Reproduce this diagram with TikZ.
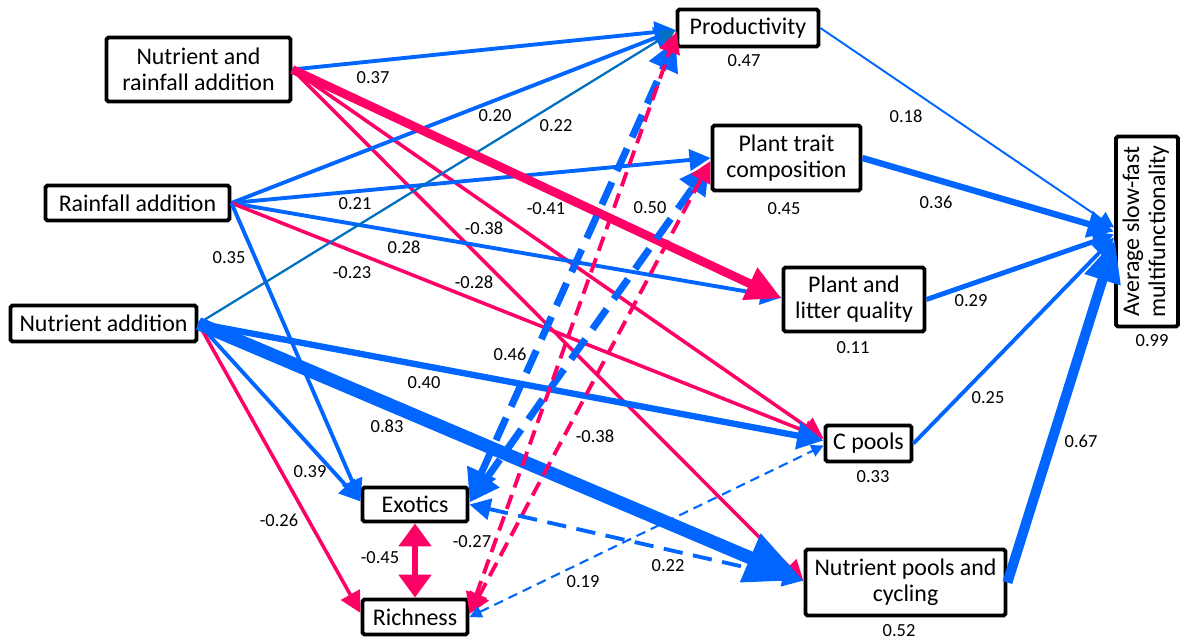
\documentclass[tikz,border=0pt]{standalone}
\usepackage{fontspec}
\setmainfont{Carlito}
\usetikzlibrary{arrows.meta,calc}
\definecolor{cb}{RGB}{0,102,255}
\definecolor{cp}{RGB}{255,0,102}
\definecolor{ct}{RGB}{0,112,192}
\tikzset{
 box/.style={draw=black, line width=2.2pt, rounded corners=1pt, fill=white, inner sep=0pt, align=center, font=\fontsize{13.6}{14.8}\selectfont},
 lbl/.style={font=\fontsize{10.5}{12}\selectfont, inner sep=0pt},
 pedge/.style={draw=cb, line width=2.2pt, -{Triangle[length=12pt,width=12pt]}},
 nedge/.style={draw=cp, line width=2pt, -{Triangle[length=12pt,width=12pt]}},
 posthin/.style={draw=cb, line width=1.1pt, -{Triangle[length=9pt,width=9pt]}},
 tealline/.style={draw=ct, line width=1.3pt, -{Triangle[length=9pt,width=9pt]}},
 posmed/.style={draw=cb, line width=3.6pt, -{Triangle[length=15pt,width=15pt]}},
 posbig/.style={draw=cb, line width=7.5pt, -{Triangle[length=33pt,width=28pt]}},
 posasf/.style={draw=cb, line width=5.7pt, -{Triangle[length=24pt,width=20pt]}},
 negbig/.style={draw=cp, line width=5pt, -{Triangle[length=20pt,width=19pt]}},
 dashbt/.style={draw=cb, line width=4pt, dash pattern=on 14pt off 7pt, {Triangle[length=17pt,width=17pt]}-{Triangle[length=17pt,width=17pt]}},
 dashp/.style={draw=cp, line width=2.2pt, dash pattern=on 8.5pt off 4.5pt, {Triangle[length=12pt,width=12pt]}-{Triangle[length=12pt,width=12pt]}},
 dashb/.style={draw=cb, line width=2.2pt, dash pattern=on 11pt off 6pt, {Triangle[length=12pt,width=12pt]}-{Triangle[length=12pt,width=12pt]}},
 dashbs/.style={draw=cb, line width=1.2pt, dash pattern=on 5.5pt off 3.5pt, {Triangle[length=7pt,width=7pt]}-{Triangle[length=7pt,width=7pt]}},
 corr/.style={draw=cp, line width=3.4pt, {Triangle[length=13pt,width=18pt]}-{Triangle[length=13pt,width=18pt]}},
}
\begin{document}
\begin{tikzpicture}[x=0.02cm,y=-0.02cm]
\useasboundingbox (0,0) rectangle (1181,639);
% nodes
\node[box, minimum width=3.68cm, minimum height=1.28cm] (NR) at (198.5,69.5) {Nutrient and\\rainfall addition};
\node[box, minimum width=3.68cm, minimum height=0.70cm] (RA) at (137.5,203) {Rainfall addition};
\node[box, minimum width=3.72cm, minimum height=0.72cm] (NA) at (103.5,323.5) {Nutrient addition};
\node[box, minimum width=2.82cm, minimum height=0.74cm] (PR) at (748,28) {Productivity};
\node[box, minimum width=2.96cm, minimum height=1.30cm] (PT) at (786.5,158) {Plant trait\\composition};
\node[box, minimum width=2.82cm, minimum height=1.28cm] (PL) at (854,299.5) {Plant and\\litter quality};
\node[box, minimum width=1.72cm, minimum height=0.72cm] (CP) at (868.5,443.5) {C pools};
\node[box, minimum width=4.00cm, minimum height=1.32cm] (NP) at (905.5,582.5) {Nutrient pools and\\cycling};
\node[box, minimum width=2.10cm, minimum height=0.68cm] (EX) at (415,504.5) {Exotics};
\node[box, minimum width=2.10cm, minimum height=0.70cm] (RI) at (415,617) {Richness};
\node[box, minimum width=1.24cm, minimum height=3.80cm] (AS) at (1147,231.5) {\rotatebox{90}{\begin{tabular}{@{}c@{}}Average slow-fast\\multifunctionality\end{tabular}}};
% edges from Nutrient and rainfall addition
\draw[pedge] (NR.east) -- ($(PR.west)+(0,2)$);
\draw[nedge] (NR.east) -- ($(CP.west)+(0,-5)$);
\draw[nedge] (NR.east) -- ($(NP.west)+(0,-1)$);
% edges from Rainfall addition
\draw[pedge] (RA.east) -- ($(PR.west)+(0,2)$);
\draw[pedge] (RA.east) -- (PT.west);
\draw[pedge] (RA.east) -- ($(PL.west)+(0,-2)$);
\draw[nedge] (RA.east) -- ($(CP.west)+(0,-5)$);
\draw[pedge] (RA.east) -- ($(EX.west)+(0,-4)$);
% edges from Nutrient addition
\draw[tealline] (NA.east) -- ($(PR.west)+(0,2)$);
\draw[posmed] (NA.east) -- ($(CP.west)+(0,-3)$);
\draw[pedge] (NA.east) -- ($(EX.west)+(0,-3)$);
\draw[nedge] (NA.east) -- ($(RI.west)+(0,-4)$);
\draw[posbig] (NA.east) -- ($(NP.west)+(0,-2)$);
\draw[negbig] (NR.east) -- ($(PL.west)+(0,-1)$);
% correlations
\draw[dashbt] ($(EX.east)+(0,-5)$) -- ($(PR.south west)+(0,-8)$);
\draw[dashbt] ($(EX.east)+(0,-2)$) -- ($(PT.west)+(-1,6)$);
\draw[dashp] ($(RI.east)+(0,-3)$) -- ($(PR.west)+(1,4)$);
\draw[dashp] ($(RI.east)+(0,-3)$) -- ($(PT.west)+(0,3)$);
\draw[dashb] (EX.east) -- ($(NP.west)+(0,-2)$);
\draw[dashbs] (RI.east) -- ($(CP.west)+(0,2)$);
\draw[corr] (EX.south) -- (RI.north);
% to multifunctionality
\draw[posthin] (PR.east) -- ($(AS.west)+(0,-4)$);
\draw[posmed] (PT.east) -- ($(AS.west)+(0,0)$);
\draw[pedge, line width=2.8pt] (PL.east) -- ($(AS.west)+(0,3)$);
\draw[pedge] (CP.east) -- ($(AS.west)+(0,6)$);
\draw[posasf] (NP.east) -- ($(AS.west)+(1,8)$);
% labels
\node[lbl] (l1) at (373,78) {0.37};
\node[lbl] (l2) at (744,61) {0.47};
\node[lbl] (l3) at (495,116) {0.20};
\node[lbl] (l4) at (556,126) {0.22};
\node[lbl] (l5) at (906,116) {0.18};
\node[lbl] (l6) at (355,204) {0.21};
\node[lbl] (l7) at (784,209) {0.45};
\node[lbl] (l8) at (936,202) {0.36};
\node[lbl] (l9) at (546,209) {-0.41};
\node[lbl] (l10) at (650,208) {0.50};
\node[lbl] (l11) at (484,228) {-0.38};
\node[lbl] (l12) at (404,247) {0.28};
\node[lbl] (l13) at (229,258) {0.35};
\node[lbl] (l14) at (352,273) {-0.23};
\node[lbl] (l15) at (474,282) {-0.28};
\node[lbl] (l16) at (971,301) {0.29};
\node[lbl] (l17) at (853,348) {0.11};
\node[lbl] (l18) at (1152,341) {0.99};
\node[lbl] (l19) at (510,354) {0.46};
\node[lbl] (l20) at (424,383) {0.40};
\node[lbl] (l21) at (988,398) {0.25};
\node[lbl] (l22) at (387,426) {0.83};
\node[lbl] (l23) at (595,436) {-0.38};
\node[lbl] (l24) at (1081,441) {0.67};
\node[lbl] (l25) at (873,477) {0.33};
\node[lbl] (l26) at (310,472) {0.39};
\node[lbl] (l27) at (279,520) {-0.26};
\node[lbl] (l28) at (380,558) {-0.45};
\node[lbl] (l29) at (472,542) {-0.27};
\node[lbl] (l30) at (668,566) {0.22};
\node[lbl] (l31) at (583,582) {0.19};
\node[lbl] (l32) at (899,631) {0.52};
\end{tikzpicture}
\end{document}
